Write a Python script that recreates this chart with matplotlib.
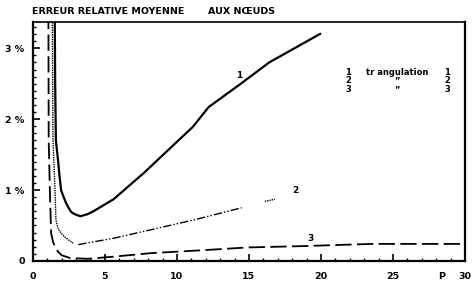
import numpy as np
import matplotlib.pyplot as plt

# ----------------------------
# Data
# ----------------------------

p1 = [1.52, 1.55, 1.60, 1.68, 1.75, 1.85, 1.96, 2.1, 2.3, 2.45, 2.66, 2.9, 3.3, 3.8,
      4.2, 5.6, 7.7, 10.1, 11.1, 12.2, 14.5, 16.4, 20.0]
e1 = [3.50, 2.50, 1.70, 1.55, 1.42, 1.20, 1.00, 0.92, 0.82, 0.76, 0.69, 0.66, 0.63, 0.66,
      0.70, 0.87, 1.24, 1.70, 1.89, 2.17, 2.51, 2.80, 3.21]

p2a = [1.35, 1.40, 1.54, 1.60, 1.75, 1.96, 2.2, 2.45, 2.8]
e2a = [3.50, 1.70, 1.00, 0.58, 0.46, 0.39, 0.34, 0.30, 0.25]
p2b = [3.15, 5.6, 8.2, 11.2, 14.5]
e2b = [0.23, 0.32, 0.44, 0.58, 0.75]
p2c = [16.1, 16.8]
e2c = [0.84, 0.87]

p3 = [1.08, 1.10, 1.18, 1.27, 1.40, 1.54, 1.75, 2.0, 2.6, 3.8, 5.6, 8.2, 11.7, 14.9, 18.9, 23.5, 30.0]
e3 = [3.50, 1.70, 1.00, 0.39, 0.27, 0.20, 0.13, 0.08, 0.04, 0.03, 0.06, 0.11, 0.15, 0.19, 0.21, 0.24, 0.24]

x_ticks = [0, 5, 10, 15, 20, 25, 30]
y_ticks = [0, 1, 2, 3]
y_labels = ["0", "1 %", "2 %", "3 %"]

# ----------------------------
# Plot
# ----------------------------

plt.rcParams["font.family"] = "DejaVu Sans"
plt.rcParams["font.weight"] = "bold"

fig = plt.figure(figsize=(4.76, 2.83), dpi=100)
ax = fig.add_axes([0.069, 0.078, 0.908, 0.844])

ax.plot(p1, e1, color="black", lw=1.6, solid_capstyle="butt", solid_joinstyle="round")
ax.plot(p2a, e2a, color="black", lw=1.0, ls=(0, (1, 0.7)))
ax.plot(p2b, e2b, color="black", lw=1.0, ls=(0, (6, 1.5, 1, 1.5, 1, 1.5)))
ax.plot(p2c, e2c, color="black", lw=1.0, ls=(0, (1, 0.7)))
ax.plot(p3, e3, color="black", lw=1.3, ls=(0, (9, 3)))

ax.set_xlim(0, 30)
ax.set_ylim(0, 3.37)

ax.set_xticks(x_ticks)
ax.set_xticks(np.arange(0, 31, 1), minor=True)
ax.set_yticks(y_ticks)
ax.set_yticklabels(y_labels)
ax.set_yticks(np.arange(0, 3.37, 0.1), minor=True)

ax.tick_params(which="major", direction="in", length=5, width=1.2, labelsize=6.8, pad=6)
ax.tick_params(which="minor", direction="in", length=2.5, width=1.0)
ax.tick_params(axis="x", pad=8)

for side in ["left", "bottom", "right"]:
    ax.spines[side].set_linewidth(1.6)
ax.spines["top"].set_linewidth(1.2)

ax.annotate("P", xy=(28.4, 0), xycoords=("data", "axes fraction"),
            xytext=(0, -8), textcoords="offset points",
            fontsize=6.8, ha="center", va="top", fontweight="bold")

ax.text(14.3, 2.62, "1", fontsize=6.5, ha="center", va="center", fontweight="bold")
ax.text(18.2, 1.00, "2", fontsize=6.5, ha="center", va="center", fontweight="bold")
ax.text(19.3, 0.31, "3", fontsize=6.5, ha="center", va="center", fontweight="bold")

# legend block
legend_rows = [("1", "tr angulation", "1"), ("2", "\u201d", "2"), ("3", "\u201d", "3")]
for i, (a, b, c) in enumerate(legend_rows):
    y = 2.66 - i * 0.12
    ax.text(21.9, y, a, fontsize=6, ha="center", va="center", fontweight="bold")
    ax.text(25.3, y, b, fontsize=6, ha="center", va="center", fontweight="bold")
    ax.text(28.75, y, c, fontsize=6, ha="center", va="center", fontweight="bold")

fig.text(0.067, 0.96, "ERREUR RELATIVE MOYENNE", fontsize=6.8, ha="left", va="center", fontweight="bold")
fig.text(0.437, 0.96, "AUX N\u0152UDS", fontsize=6.8, ha="left", va="center", fontweight="bold")

plt.savefig("out.png", dpi=100)
